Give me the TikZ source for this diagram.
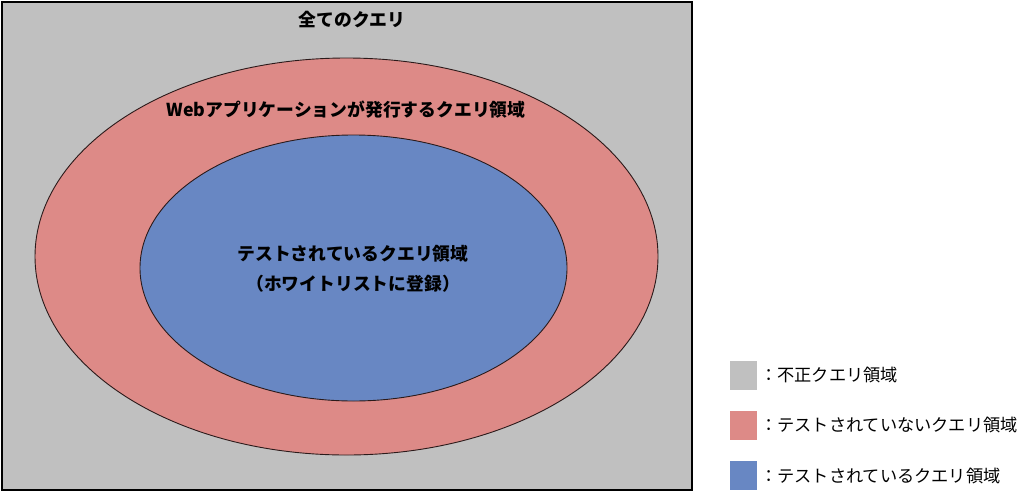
\documentclass[tikz,border=0pt]{standalone}
\usepackage{fontspec}
\setmainfont{Noto Sans CJK JP}
\usetikzlibrary{shapes.geometric,positioning}
\definecolor{querygray}{HTML}{C0C0C0}
\definecolor{querypink}{HTML}{DD8A87}
\definecolor{queryblue}{HTML}{6887C3}
\definecolor{edgedark}{HTML}{2B1A1A}

\begin{document}
\begin{tikzpicture}[x=1pt, y=-1pt, node distance=21pt,
			region node/.style={ellipse,draw=edgedark,line width=0.9pt,inner sep=0pt},
			label node/.style={font=\bfseries\fontsize{17.8}{30}\selectfont,align=center},
			key node/.style={minimum width=27pt,minimum height=29pt,inner sep=0pt},
			key text/.style={font=\fontsize{17.2}{20}\selectfont}]
			
			\useasboundingbox (0,0) rectangle (1024,493);
			
			\node[draw,line width=2pt,fill=querygray,minimum width=690pt,minimum height=488pt,inner sep=0pt] (all) at (347,246) {};
			\node[region node,fill=querypink,minimum width=623pt,minimum height=397pt] (web) at (346.5,256.5) {};
			\node[region node,fill=queryblue,minimum width=427pt,minimum height=266pt] (tested) at (353.5,268) {};
			
			\node[label node] (all label) at (352,20) {全てのクエリ};
			\node[label node] (web label) at (346,110) {Webアプリケーションが発行するクエリ領域};
			\node[label node] (tested label) at (353,269) {テストされているクエリ領域\\（ホワイトリストに登録）};
			
			\node[key node,fill=querygray] (key1) at (743,375) {};
			\node[key node,fill=querypink] (key2) [below=of key1] {};
			\node[key node,fill=queryblue] (key3) [below=of key2] {};
			
			\node[key text] (text1) [right=0pt of key1] {：不正クエリ領域};
			\node[key text] (text2) [right=0pt of key2] {：テストされていないクエリ領域};
			\node[key text] (text3) [right=0pt of key3] {：テストされているクエリ領域};
			\end{tikzpicture}
\end{document}
